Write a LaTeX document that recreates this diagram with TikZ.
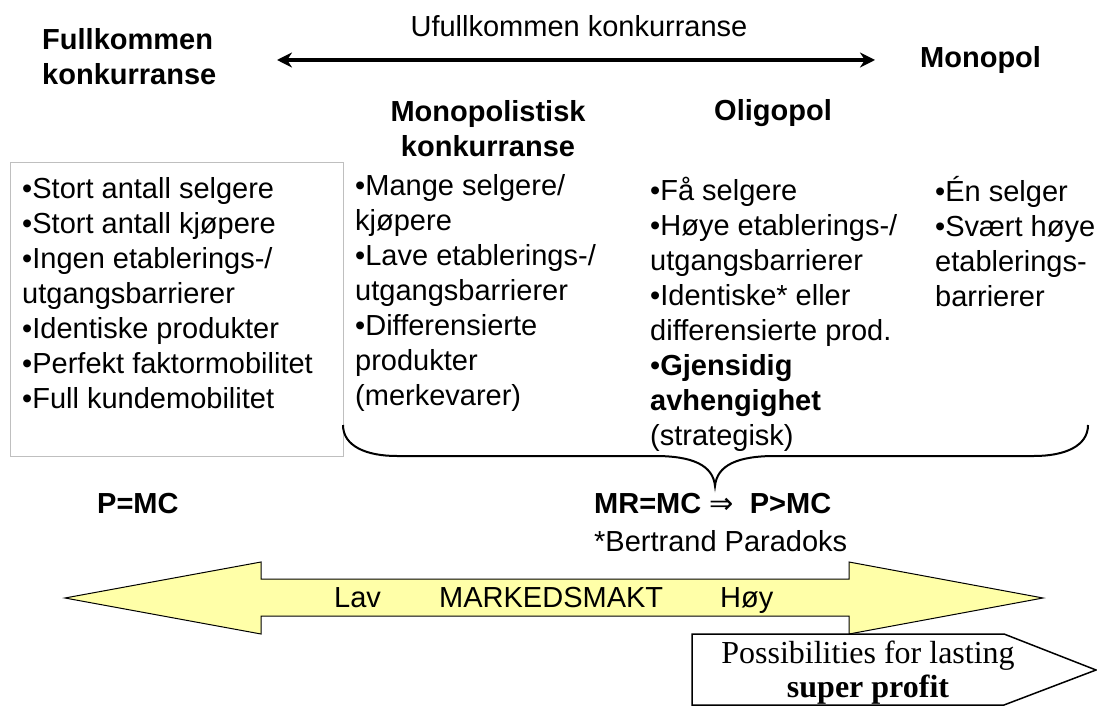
\documentclass[tikz,border=0pt]{standalone}
\usepackage{fontspec}
\setmainfont{Liberation Sans}
\newfontfamily\serifnote{Liberation Serif}
\newfontfamily\arrowsym{DejaVu Sans}
\usetikzlibrary{arrows.meta}

\definecolor{powerfill}{RGB}{255,255,168}
\definecolor{boxgray}{RGB}{191,191,191}

\begin{document}
\begin{tikzpicture}[
    x=1pt,
    y=-1pt,
    font=\fontsize{29}{35}\selectfont,
    heading/.style={
        font=\fontsize{29}{35}\selectfont\bfseries,
        inner sep=0pt,
        align=left,
        anchor=base west
    },
    plain/.style={
        inner sep=0pt,
        align=left,
        anchor=base west
    },
    scalearrow/.style={
        {Stealth[length=15pt,width=15pt]}-{Stealth[length=15pt,width=15pt]},
        line width=4pt
    },
    greybox/.style={draw=boxgray, line width=1pt},
    oligobrace/.style={line width=2pt},
    powerarrow/.style={draw=black, fill=powerfill, line width=1pt, line join=miter},
    profitbox/.style={draw=black, fill=white, line width=1.5pt},
    profittext/.style={
        font=\serifnote\fontsize{32}{34}\selectfont,
        inner sep=0pt,
        align=center,
        anchor=base
    }
]

\useasboundingbox (0,0) rectangle (1097,708);

% base of a multi-line node = baseline of its last line
\node[heading] (fullk) at (42,85) {Fullkommen\\konkurranse};
\node[plain, anchor=base] (ufullk) at (579,37) {Ufullkommen konkurranse};
\node[heading] (mono) at (920,68) {Monopol};
\node[heading, align=center, anchor=base] (monok) at (488,157) {Monopolistisk\\konkurranse};
\node[heading] (oligo) at (714,121) {Oligopol};

\coordinate (scaleL) at (277,60);
\coordinate (scaleR) at (875,60);
\draw[scalearrow] (scaleL) -- (scaleR);

\draw[greybox] (10,163) rectangle (343,456);
\node[plain] (fklist) at (22,408) {•Stort antall selgere\\•Stort antall kjøpere\\•Ingen etablerings-/\\utgangsbarrierer\\•Identiske produkter\\•Perfekt faktormobilitet\\•Full kundemobilitet};
\node[plain] (mklist) at (355,405) {•Mange selgere/\\kjøpere\\•Lave etablerings-/\\utgangsbarrierer\\•Differensierte\\produkter\\(merkevarer)};
\node[plain] (oplist) at (650,445) {•Få selgere\\•Høye etablerings-/\\utgangsbarrierer\\•Identiske* eller\\differensierte prod.\\•\textbf{Gjensidig}\\\textbf{avhengighet}\\(strategisk)};
\node[plain] (mplist) at (935,307) {•Én selger\\•Svært høye\\etablerings-\\barrierer};

\coordinate (braceL) at (343,425);
\coordinate (braceTip) at (715,486);
\coordinate (braceR) at (1088,425);
\draw[oligobrace] (braceL) .. controls (343,446) and (366,456) .. (397,456) -- (655,456)
    .. controls (692,456) and (713,465) .. (braceTip)
    .. controls (717,465) and (738,456) .. (775,456) -- (1034,456)
    .. controls (1065,456) and (1088,446) .. (braceR);

\node[heading] (pmc) at (97,513) {P=MC};
\node[heading] (mrmc) at (594,513) {MR=MC {\mdseries\arrowsym ⇒}\ \ P>MC};
\node[plain] (bertrand) at (594,551) {*Bertrand Paradoks};

\draw[powerarrow] (65,598) -- (261,562) -- (261,579) -- (849,579) -- (849,562) -- (1043,598)
    -- (849,634) -- (849,616) -- (261,616) -- (261,634) -- cycle;
\node[plain] (lav) at (334,607) {Lav};
\node[plain] (mmakt) at (439,607) {MARKEDSMAKT};
\node[plain] (hoy) at (720,607) {Høy};

\draw[profitbox] (692,634) -- (1004,634) -- (1096,670) -- (1004,705) -- (692,705) -- cycle;
\node[profittext] (profit) at (868,697) {Possibilities for lasting\\\textbf{super profit}};

\end{tikzpicture}
\end{document}
